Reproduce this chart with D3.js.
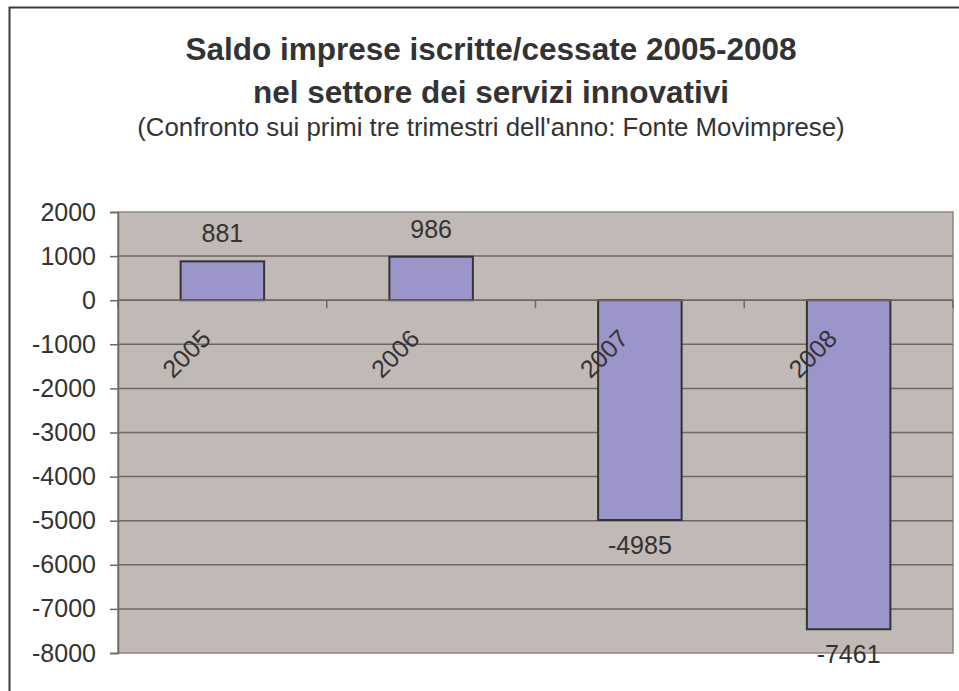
<!DOCTYPE html>
<html>
<head>
<meta charset="utf-8">
<script src="https://cdn.jsdelivr.net/npm/d3@7/dist/d3.min.js"></script>
<style>
  html, body { margin: 0; padding: 0; background: #fff; }
  svg { display: block; }
  text { font-family: "Liberation Sans", Arial, Helvetica, sans-serif; fill: #333; }
</style>
</head>
<body>
<svg id="chart" width="959" height="691"></svg>
<script>
const years = ["2005", "2006", "2007", "2008"];
const saldo = [881, 986, -4985, -7461];
const yTicks = [2000, 1000, 0, -1000, -2000, -3000, -4000, -5000, -6000, -7000, -8000];
const titleLines = ["Saldo imprese iscritte/cessate 2005-2008", "nel settore dei servizi innovativi"];
const subtitle = "(Confronto sui primi tre trimestri dell'anno: Fonte Movimprese)";

const svg = d3.select("#chart");
const plot = { left: 118, top: 212, right: 953, bottom: 653 };

// outer chart border (extends past the right/bottom edges)
svg.append("rect")
  .attr("x", 9.5).attr("y", 7.5)
  .attr("width", 980).attr("height", 720)
  .attr("fill", "#fff").attr("stroke", "#3a3a3a").attr("stroke-width", 2);

// titles
const cx = 491;
svg.append("text").attr("x", cx).attr("y", 60).attr("text-anchor", "middle")
  .style("font-size", "31.5px").style("font-weight", "bold").text(titleLines[0]);
svg.append("text").attr("x", cx).attr("y", 103).attr("text-anchor", "middle")
  .style("font-size", "31.5px").style("font-weight", "bold").text(titleLines[1]);
svg.append("text").attr("x", cx).attr("y", 136).attr("text-anchor", "middle")
  .style("font-size", "25.8px").text(subtitle);

const x = d3.scaleBand().domain(years).range([plot.left, plot.right])
  .paddingInner(0.6).paddingOuter(0.3);
const y = d3.scaleLinear().domain([-8000, 2000]).range([plot.bottom, plot.top]);

// plot area
svg.append("rect")
  .attr("x", plot.left).attr("y", plot.top)
  .attr("width", plot.right - plot.left).attr("height", plot.bottom - plot.top)
  .attr("fill", "#c1b9b6").attr("stroke", "#8e8684").attr("stroke-width", 1.5);

// gridlines
svg.append("g").selectAll("line")
  .data(yTicks.filter(d => d !== 2000 && d !== -8000))
  .join("line")
  .attr("x1", plot.left).attr("x2", plot.right)
  .attr("y1", d => y(d)).attr("y2", d => y(d))
  .attr("stroke", "#6d6765").attr("stroke-width", 1.5);

// y axis
const yAxis = d3.axisLeft(y).tickValues(yTicks).tickSize(8).tickPadding(14).tickFormat(d => String(d));
const gy = svg.append("g").attr("transform", `translate(${plot.left},0)`).call(yAxis);
gy.select(".domain").attr("stroke", "#6d6765").attr("stroke-width", 1.5);
gy.selectAll(".tick line").attr("stroke", "#6d6765").attr("stroke-width", 1.5);
gy.selectAll(".tick text").style("font-size", "25px").style("font-family", "\"Liberation Sans\", Arial, sans-serif").attr("fill", "#333");

// bars
svg.append("g").selectAll("rect")
  .data(years.map((yr, i) => ({ yr, v: saldo[i] })))
  .join("rect")
  .attr("x", d => x(d.yr))
  .attr("width", x.bandwidth())
  .attr("y", d => y(Math.max(0, d.v)))
  .attr("height", d => Math.abs(y(d.v) - y(0)))
  .attr("fill", "#9c95c9").attr("stroke", "#333").attr("stroke-width", 2);

// x axis at zero with boundary ticks
const y0 = y(0);
svg.append("line").attr("x1", plot.left).attr("x2", plot.right)
  .attr("y1", y0).attr("y2", y0).attr("stroke", "#6d6765").attr("stroke-width", 1.5);
const bounds = d3.range(years.length + 1).map(i => plot.left + i * (plot.right - plot.left) / years.length);
svg.append("g").selectAll("line").data(bounds).join("line")
  .attr("x1", d => d).attr("x2", d => d)
  .attr("y1", y0).attr("y2", y0 + 8)
  .attr("stroke", "#6d6765").attr("stroke-width", 1.5);

// category labels (rotated)
svg.append("g").selectAll("text").data(years).join("text")
  .attr("text-anchor", "end")
  .attr("transform", d => `translate(${x(d) + x.bandwidth() / 2 - 10},${y0 + 40}) rotate(-45)`)
  .style("font-size", "25px")
  .text(d => d);

// data labels
svg.append("g").selectAll("text")
  .data(years.map((yr, i) => ({ yr, v: saldo[i] })))
  .join("text")
  .attr("text-anchor", "middle")
  .attr("x", d => x(d.yr) + x.bandwidth() / 2)
  .attr("y", d => d.v >= 0 ? y(d.v) - 19 : y(d.v) + 34)
  .style("font-size", "25px")
  .text(d => d.v);
</script>
</body>
</html>
